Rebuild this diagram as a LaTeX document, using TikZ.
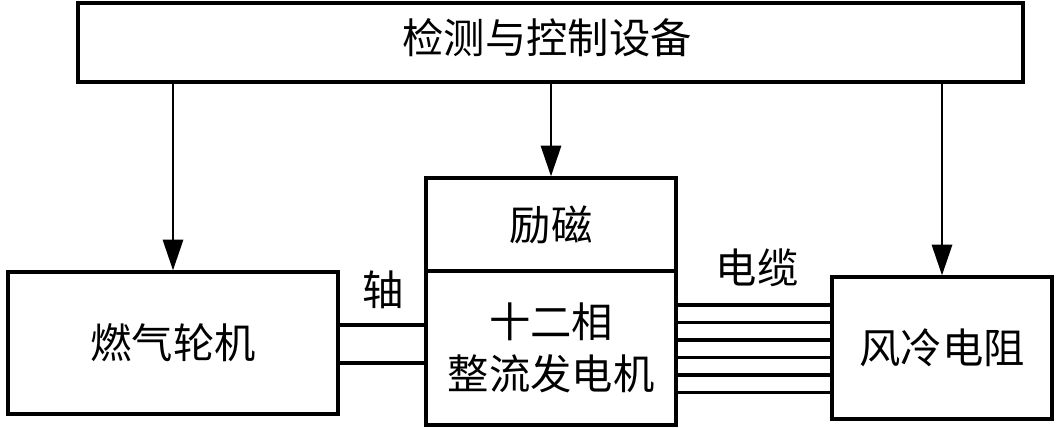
\documentclass[tikz,border=0pt]{standalone}
\usepackage{fontspec}
\newfontfamily\cjk{Noto Sans CJK SC}
\usetikzlibrary{arrows.meta}

\begin{document}
\begin{tikzpicture}[
    x=0.75pt, y=-0.75pt,
    every node/.style={font=\cjk\fontsize{31}{39}\selectfont, align=center},
    box/.style={rectangle, draw, line width=2.4pt, inner sep=0pt},
    arr/.style={line width=2.2pt, -{Triangle[length=23pt,width=15pt]}},
    wire/.style={line width=2.4pt}
]
\useasboundingbox (0,0) rectangle (1063,428);

% control unit on top
\node[box, minimum width=708.75pt, minimum height=59.25pt] (ctrl) at (550.5,42.5) {};
\node (ctrltxt) at (547,38) {检测与控制设备};

% turbine, generator, load
\node[box, minimum width=247.5pt, minimum height=106.5pt] (turb) at (173,343) {燃气轮机};
\node[box, minimum width=187.5pt, minimum height=69.75pt] (exc) at (551,224.5) {励磁};
\node[box, minimum width=187.5pt, minimum height=115.5pt] (gen) at (551,348) {十二相\\整流发电机};
\node[box, minimum width=165pt, minimum height=106.5pt] (load) at (942,348) {风冷电阻};

% control arrows
\draw[arr] (ctrl.south -| turb.north) -- (turb.north);
\draw[arr] (ctrl.south -| exc.north) -- (exc.north);
\draw[arr] (ctrl.south -| load.north) -- (load.north);

% shaft
\draw[wire] (turb.east |- 0,325) -- (gen.west |- 0,325);
\draw[wire] (turb.east |- 0,363) -- (gen.west |- 0,363);
\node (shaft) at (383,290) {轴};

% cable
\foreach \y in {305,322.5,340,357.5,375,392.5}
    \draw[wire] (gen.east |- 0,\y) -- (load.west |- 0,\y);
\node (cable) at (757,268) {电缆};

\end{tikzpicture}
\end{document}
